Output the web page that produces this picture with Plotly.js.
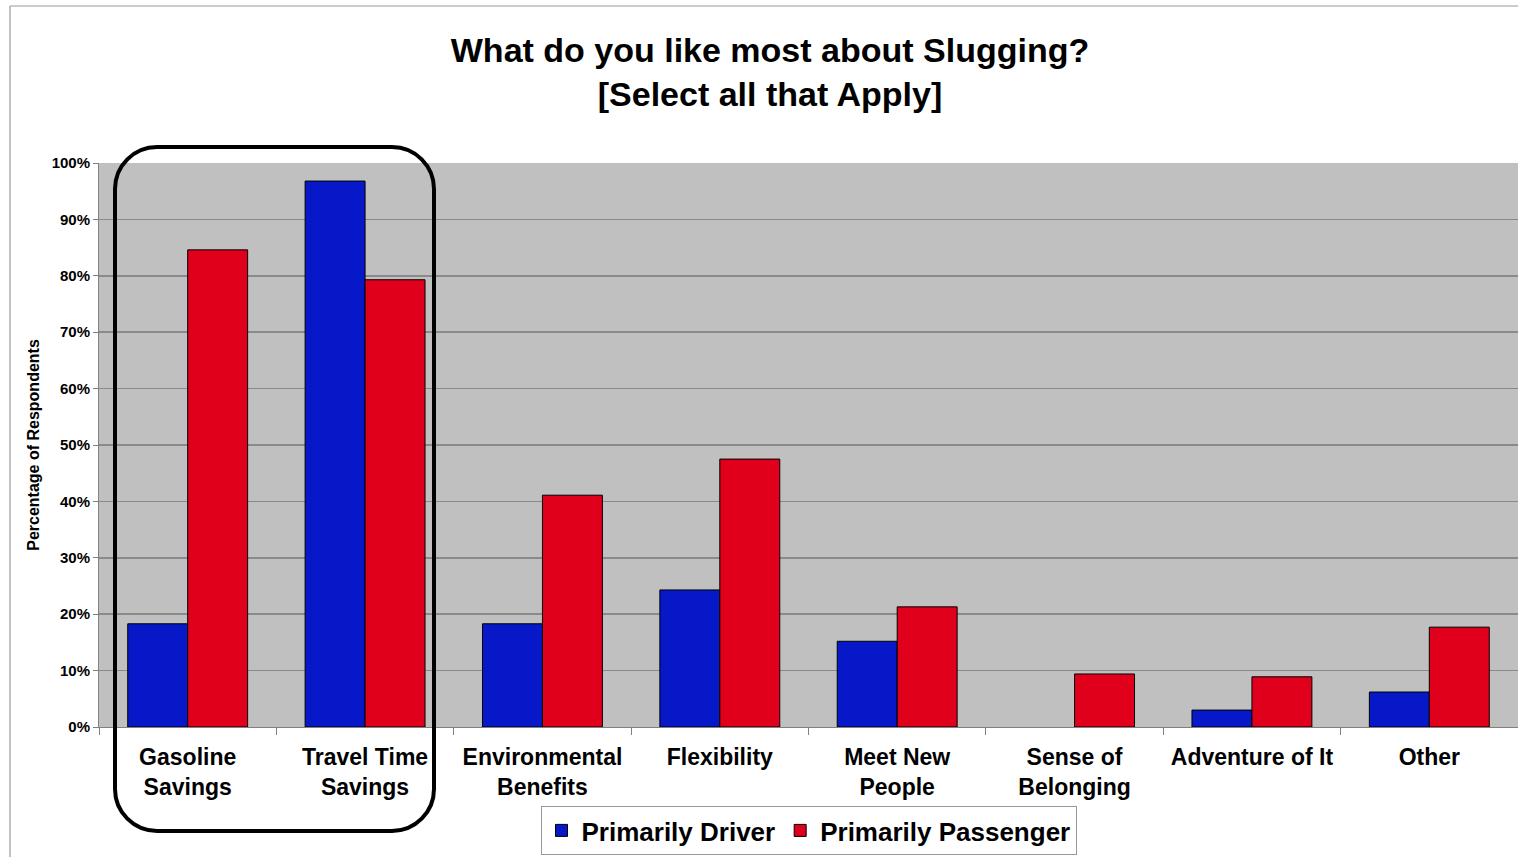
<!DOCTYPE html>
<html>
<head>
<meta charset="utf-8">
<script src="https://cdn.plot.ly/plotly-3.0.1.min.js"></script>
<style>
html,body{margin:0;padding:0;background:#fff;}
#chart{width:1518px;height:857px;}
</style>
</head>
<body>
<div id="chart"></div>
<script>
const categories = [
  "Gasoline<br>Savings",
  "Travel Time<br>Savings",
  "Environmental<br>Benefits",
  "Flexibility",
  "Meet New<br>People",
  "Sense of<br>Belonging",
  "Adventure of It",
  "Other"
];
const driverValues = [18.3, 96.8, 18.3, 24.3, 15.2, 0, 3.0, 6.2];
const passengerValues = [84.6, 79.3, 41.1, 47.5, 21.3, 9.4, 8.9, 17.7];
const yTickValues = [0, 10, 20, 30, 40, 50, 60, 70, 80, 90, 100];

const W = 1518, H = 857;
const M = {l: 99, r: 0, t: 163, b: 130};
const PW = W - M.l - M.r, PH = H - M.t - M.b;
function px(x) { return (x - M.l) / PW; }
function py(y) { return (H - M.b - y) / PH; }

function roundedRect(x0, y0, x1, y1, r) {
  const k = 0.5523 * r;
  const P = (x, y) => px(x) + ',' + py(y);
  return 'M' + P(x0 + r, y0) +
    ' L' + P(x1 - r, y0) +
    ' C' + P(x1 - r + k, y0) + ' ' + P(x1, y0 + r - k) + ' ' + P(x1, y0 + r) +
    ' L' + P(x1, y1 - r) +
    ' C' + P(x1, y1 - r + k) + ' ' + P(x1 - r + k, y1) + ' ' + P(x1 - r, y1) +
    ' L' + P(x0 + r, y1) +
    ' C' + P(x0 + r - k, y1) + ' ' + P(x0, y1 - r + k) + ' ' + P(x0, y1 - r) +
    ' L' + P(x0, y0 + r) +
    ' C' + P(x0, y0 + r - k) + ' ' + P(x0 + r - k, y0) + ' ' + P(x0 + r, y0) + ' Z';
}

const font = "Arial, 'Liberation Sans', sans-serif";
const outline = vals => vals.map(v => (v > 0 ? 1 : 0));

const traces = [
  {
    type: 'bar', name: 'Primarily Driver', x: categories, y: driverValues,
    marker: {color: '#0618c8', line: {color: '#000', width: outline(driverValues)}}
  },
  {
    type: 'bar', name: 'Primarily Passenger', x: categories, y: passengerValues,
    marker: {color: '#e0001b', line: {color: '#000', width: outline(passengerValues)}}
  }
];

const layout = {
  width: W, height: H,
  margin: M,
  paper_bgcolor: '#ffffff',
  plot_bgcolor: '#c0c0c0',
  font: {family: font, color: '#000', size: 15},
  barmode: 'group',
  bargap: 0.324,
  bargroupgap: 0,
  title: {
    text: '<b>What do you like most about Slugging?<br>[Select all that Apply]</b>',
    font: {family: font, size: 34, color: '#000'},
    x: 770 / W, xanchor: 'center', xref: 'container',
    y: 1 - 62 / H, yanchor: 'top', yref: 'container',
    automargin: false
  },
  xaxis: {
    type: 'category',
    automargin: false,
    tickson: 'boundaries',
    ticks: 'outside', ticklen: 7, tickcolor: '#808080', tickwidth: 1,
    ticklabelstandoff: 9,
    showline: true, linecolor: '#808080', linewidth: 1,
    showgrid: false,
    tickfont: {family: font, size: 23, color: '#000', weight: 'bold'},
    fixedrange: true
  },
  yaxis: {
    range: [0, 100],
    automargin: false,
    tickvals: yTickValues,
    ticktext: yTickValues.map(v => '<b>' + v + '%</b>'),
    ticks: 'outside', ticklen: 5, tickcolor: '#808080',
    showline: true, linecolor: '#808080', linewidth: 1,
    showgrid: true, gridcolor: '#8a8a8a', gridwidth: 1.5,
    zeroline: false,
    tickfont: {family: font, size: 15, color: '#000'},
    title: {
      text: '<b>Percentage of Respondents</b>',
      font: {family: font, size: 16, color: '#000'},
      standoff: 8
    },
    fixedrange: true
  },
  showlegend: true,
  legend: {
    orientation: 'h',
    x: 0.5, xanchor: 'center',
    y: py(855), yanchor: 'bottom',
    bgcolor: '#ffffff',
    bordercolor: '#999999', borderwidth: 1,
    font: {family: font, size: 26, color: '#000', weight: 'bold'},
    traceorder: 'normal'
  },
  shapes: [
    {type: 'line', xref: 'paper', yref: 'paper',
      x0: px(10), x1: px(10), y0: py(6), y1: py(860),
      line: {color: '#999999', width: 1.2}},
    {type: 'line', xref: 'paper', yref: 'paper',
      x0: px(10), x1: px(1520), y0: py(6), y1: py(6),
      line: {color: '#999999', width: 1.2}},
    {type: 'path', xref: 'paper', yref: 'paper',
      path: roundedRect(115, 147, 434, 831, 42),
      line: {color: '#000', width: 4}, fillcolor: 'rgba(0,0,0,0)', layer: 'above'}
  ]
};

Plotly.newPlot('chart', traces, layout, {displayModeBar: false, staticPlot: true});
</script>
</body>
</html>
